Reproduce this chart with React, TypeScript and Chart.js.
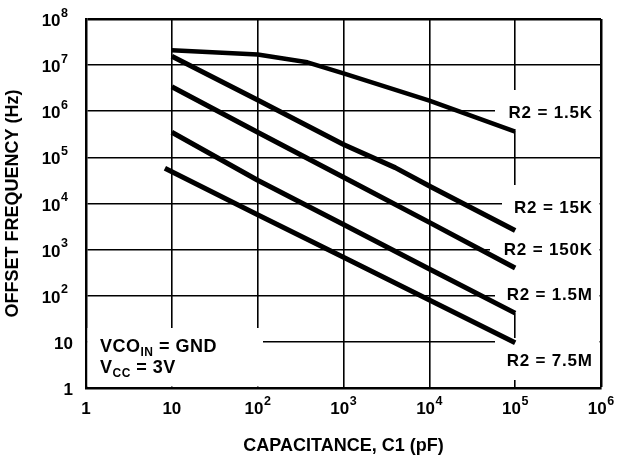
import React, { useEffect, useRef } from 'react';
import { Chart, registerables } from 'chart.js';

Chart.register(...registerables);

// ---- data ----
const X_TICKS = [1, 10, 100, 1e3, 1e4, 1e5, 1e6];
const Y_TICKS = [1, 10, 100, 1e3, 1e4, 1e5, 1e6, 1e7, 1e8];

const SERIES_NAMES = ['R2 = 1.5K', 'R2 = 15K', 'R2 = 150K', 'R2 = 1.5M', 'R2 = 7.5M'];

const c1_R1_5K = [10, 100, 380, 1000, 1e4, 1e5];
const f_R1_5K = [2.1e7, 1.7e7, 1.15e7, 6.6e6, 1.7e6, 3.6e5];

const c1_R15K = [10, 100, 1000, 4000, 1e4, 1e5];
const f_R15K = [1.55e7, 1.75e6, 1.9e5, 6e4, 2.4e4, 2.6e3];

const c1_R150K = [10, 100, 1000, 1e4, 1e5];
const f_R150K = [3.4e6, 3.5e5, 3.7e4, 3.9e3, 400];

const c1_R1_5M = [10, 100, 1000, 1e4, 1e5];
const f_R1_5M = [3.5e5, 3.2e4, 3.5e3, 380, 42];

const c1_R7_5M = [8.3, 100, 1000, 1e4, 1e5];
const f_R7_5M = [5.8e4, 5.7e3, 680, 81, 9.6];

// label anchor values (frequency at which each R2 label sits, right edge capacitance)
const LABEL_FREQ = [9.5e5, 8.4e3, 1.03e3, 1.07e2, 4.05];
const LABEL_RIGHT_C1 = 7.8e5;

const X_TITLE = 'CAPACITANCE, C1 (pF)';
const Y_TITLE = 'OFFSET FREQUENCY (Hz)';
const NOTE_1 = ['VCO', 'IN', ' = GND'];
const NOTE_2 = ['V', 'CC', ' = 3V'];

const FONT = '"Liberation Sans", Arial, Helvetica, sans-serif';

const SERIES_X = [c1_R1_5K, c1_R15K, c1_R150K, c1_R1_5M, c1_R7_5M];
const SERIES_Y = [f_R1_5K, f_R15K, f_R150K, f_R1_5M, f_R7_5M];

const decorPlugin = {
  id: 'decor',
  beforeDatasetsDraw(chart: any) {
    const ctx = chart.ctx;
    const a = chart.chartArea;
    ctx.save();
    ctx.fillStyle = '#fff';
    const r = a.right - 1.5;
    const rects = [
      [495, 90, r, 131],
      [502, 185, r, 232],
      [490, 232, r, 270],
      [495, 270, r, 313],
      [495, 338, r, 380],
      [a.left + 1.5, 328, 263, a.bottom - 1.5],
    ];
    rects.forEach(([x0, y0, x1, y1]) => ctx.fillRect(x0, y0, x1 - x0, y1 - y0));
    ctx.restore();
  },
  afterDraw(chart: any) {
    const ctx = chart.ctx;
    const xs = chart.scales.x;
    const ys = chart.scales.y;
    const a = chart.chartArea;
    ctx.save();
    ctx.fillStyle = '#000';
    ctx.textBaseline = 'alphabetic';
    const baseFont = `bold 17px ${FONT}`;
    const supFont = `bold 12.5px ${FONT}`;
    const setSpacing = (s: string) => {
      try {
        (ctx as any).letterSpacing = s;
      } catch (e) {}
    };

    const measure = (v: number) => {
      const e = Math.round(Math.log10(v));
      const base = e === 0 ? '1' : '10';
      const sup = e >= 2 ? String(e) : '';
      ctx.font = baseFont;
      const wb = ctx.measureText(base).width;
      ctx.font = supFont;
      const ws = sup ? ctx.measureText(sup).width + 0.5 : 0;
      return { base, sup, wb, ws };
    };
    const drawLabel = (v: number, xLeft: number, baseline: number) => {
      const m = measure(v);
      ctx.textAlign = 'left';
      ctx.font = baseFont;
      ctx.fillText(m.base, xLeft, baseline);
      if (m.sup) {
        ctx.font = supFont;
        ctx.fillText(m.sup, xLeft + m.wb + 0.5, baseline - 9.5);
      }
    };

    // x tick labels
    xs.ticks.forEach((t: any) => {
      const px = xs.getPixelForValue(t.value);
      const m = measure(t.value);
      drawLabel(t.value, px - (m.wb + m.ws) / 2, a.bottom + 26);
    });
    // y tick labels
    ys.ticks.forEach((t: any) => {
      const py = ys.getPixelForValue(t.value);
      const m = measure(t.value);
      const right = m.sup ? a.left - 18 : a.left - 13;
      drawLabel(t.value, right - (m.wb + m.ws), py + 7);
    });

    // R2 labels
    ctx.font = `bold 17px ${FONT}`;
    setSpacing('0.8px');
    ctx.textAlign = 'right';
    const lx = xs.getPixelForValue(LABEL_RIGHT_C1);
    SERIES_NAMES.forEach((name, i) => {
      const py = ys.getPixelForValue(LABEL_FREQ[i]);
      ctx.fillText(name, lx + 1, py + 6);
    });

    // note
    setSpacing('0.5px');
    const drawNote = (parts: string[], x: number, baseline: number) => {
      ctx.textAlign = 'left';
      ctx.font = `bold 18px ${FONT}`;
      ctx.fillText(parts[0], x, baseline);
      let cx = x + ctx.measureText(parts[0]).width;
      ctx.font = `bold 12px ${FONT}`;
      ctx.fillText(parts[1], cx, baseline + 4);
      cx += ctx.measureText(parts[1]).width;
      ctx.font = `bold 18px ${FONT}`;
      ctx.fillText(parts[2], cx, baseline);
    };
    drawNote(NOTE_1, a.left + 14, 352);
    drawNote(NOTE_2, a.left + 14, 373);
    setSpacing('0px');
    ctx.restore();
  },
};

export default function App() {
  const ref = useRef<HTMLCanvasElement | null>(null);
  useEffect(() => {
    if (!ref.current) return;
    const datasets = SERIES_NAMES.map((name, i) => ({
      label: name,
      data: SERIES_X[i].map((x, j) => ({ x, y: SERIES_Y[i][j] })),
      borderColor: '#000',
      backgroundColor: '#000',
      borderWidth: i === 0 ? 4.5 : 5,
      pointRadius: 0,
      borderCapStyle: 'butt' as const,
      borderJoinStyle: 'round' as const,
      tension: 0,
      fill: false,
    }));
    const gridWidth = (edge: number) => (c: any) =>
      c.tick && c.tick.value === edge ? 2.5 : 1.6;
    const chart = new Chart(ref.current, {
      type: 'line',
      data: { datasets },
      options: {
        responsive: false,
        animation: false,
        devicePixelRatio: 1,
        layout: { padding: { left: 0, top: 19, right: 17, bottom: 0 } },
        plugins: { legend: { display: false }, tooltip: { enabled: false } },
        scales: {
          x: {
            type: 'logarithmic',
            min: 1,
            max: 1e6,
            afterBuildTicks: (s: any) => {
              s.ticks = X_TICKS.map((v) => ({ value: v }));
            },
            afterFit: (s: any) => {
              s.height = 70;
            },
            ticks: { display: false },
            grid: { color: '#000', lineWidth: gridWidth(1e6), drawTicks: false },
            border: { color: '#000', width: 2.5 },
            title: {
              display: true,
              text: X_TITLE,
              color: '#000',
              font: { family: FONT, size: 18, weight: 'bold' },
              padding: { top: 0, bottom: 1 },
            },
          },
          y: {
            type: 'logarithmic',
            min: 1,
            max: 1e8,
            afterBuildTicks: (s: any) => {
              s.ticks = Y_TICKS.map((v) => ({ value: v }));
            },
            afterFit: (s: any) => {
              s.width = 86;
            },
            ticks: { display: false },
            grid: { color: '#000', lineWidth: gridWidth(1e8), drawTicks: false },
            border: { color: '#000', width: 2.5 },
            title: {
              display: true,
              text: Y_TITLE,
              color: '#000',
              font: { family: FONT, size: 18, weight: 'bold' },
              padding: { top: 2, bottom: 0 },
            },
          },
        },
      } as any,
      plugins: [decorPlugin],
    });
    return () => chart.destroy();
  }, []);
  return (
    <div style={{ position: 'absolute', left: 0, top: 0, width: 618, height: 458, background: '#fff' }}>
      <canvas ref={ref} width={618} height={458} style={{ display: 'block' }} />
    </div>
  );
}
